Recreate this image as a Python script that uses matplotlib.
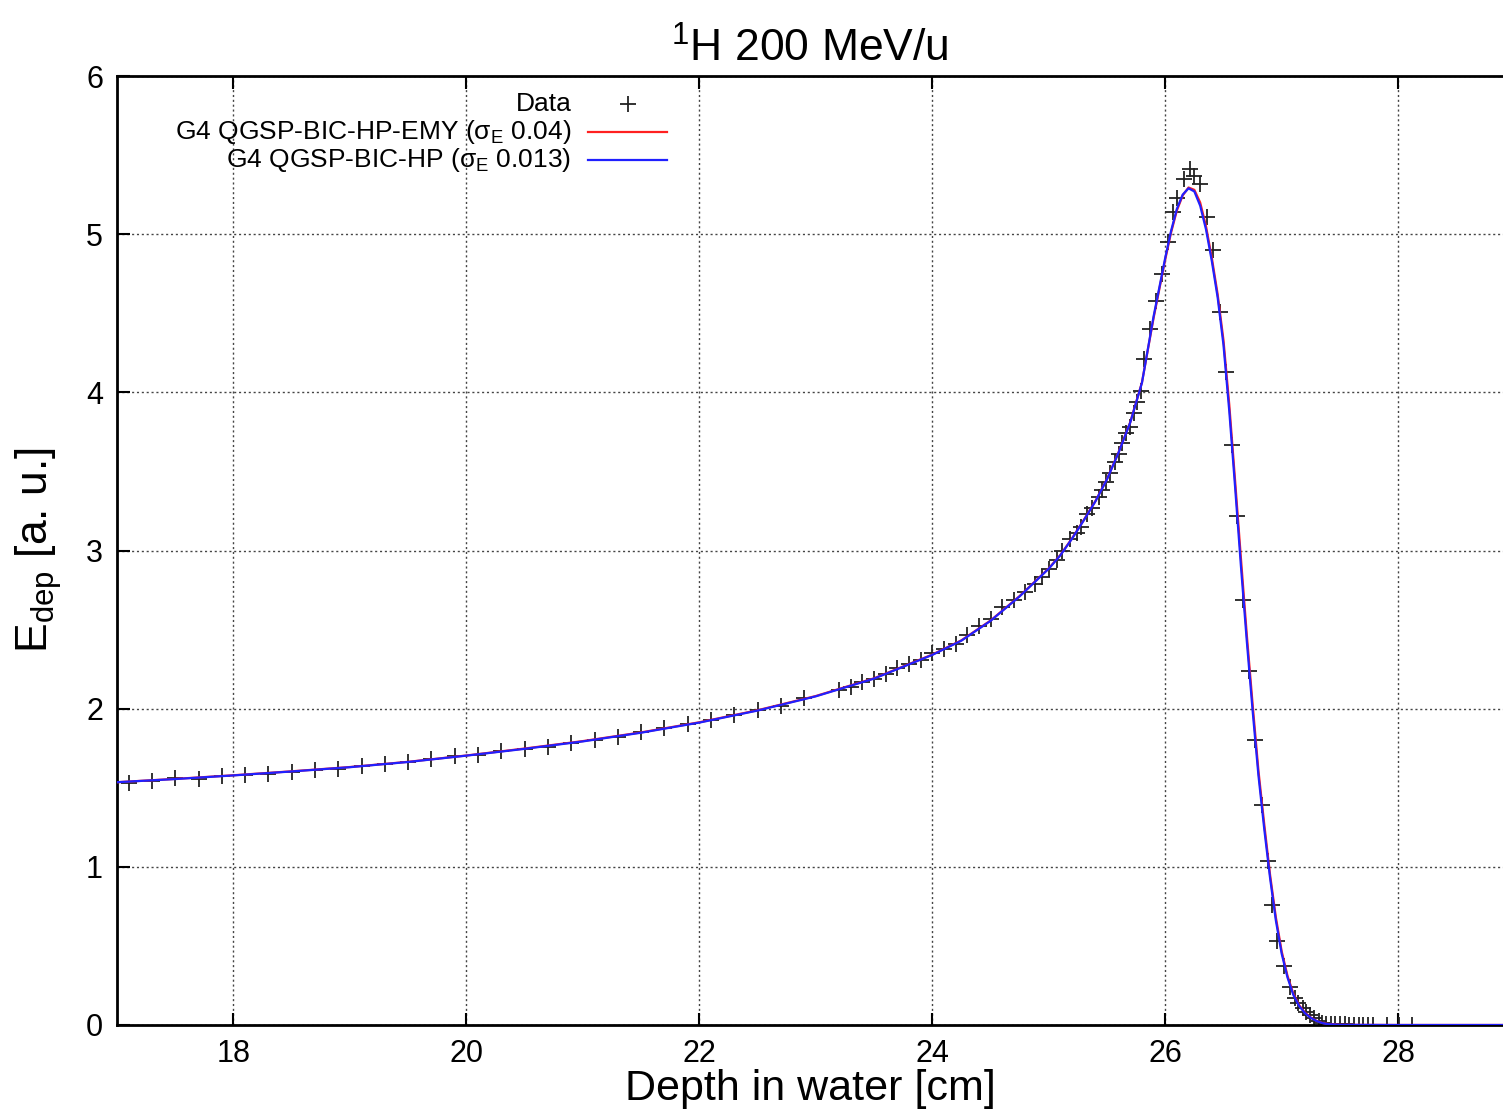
import matplotlib
matplotlib.use("Agg")
import matplotlib.pyplot as plt
from matplotlib.lines import Line2D

plt.rcParams["font.family"] = ["Liberation Sans", "DejaVu Sans"]
plt.rcParams["mathtext.fontset"] = "custom"
plt.rcParams["mathtext.rm"] = "Liberation Sans"
plt.rcParams["mathtext.it"] = "Liberation Sans"

data_x = [17.1, 17.3, 17.5, 17.7, 17.9, 18.1, 18.3, 18.5, 18.7, 18.9,
          19.1, 19.3, 19.5, 19.7, 19.9, 20.1, 20.3, 20.5, 20.7, 20.9,
          21.1, 21.3, 21.5, 21.7, 21.9, 22.1, 22.3, 22.5, 22.7, 22.9,
          23.2, 23.3, 23.4, 23.5, 23.6, 23.7, 23.8, 23.9, 24.0, 24.1,
          24.2, 24.3, 24.4, 24.5, 24.6, 24.7, 24.8, 24.88, 24.94, 25.0,
          25.07, 25.11, 25.18, 25.24, 25.28, 25.33, 25.37, 25.43, 25.46, 25.49,
          25.53, 25.57, 25.60, 25.63, 25.66, 25.70, 25.73, 25.76, 25.79, 25.82,
          25.87, 25.92, 25.97, 26.02, 26.07, 26.10, 26.16, 26.21, 26.25, 26.30,
          26.36, 26.41, 26.47, 26.52, 26.57, 26.62, 26.67, 26.72, 26.77, 26.83,
          26.88, 26.92, 26.96, 27.02, 27.07, 27.11, 27.14, 27.18, 27.21, 27.24,
          27.28, 27.32, 27.35, 27.38, 27.42, 27.46, 27.50, 27.54, 27.58, 27.62,
          27.66, 27.70, 27.74, 27.78, 27.90, 28.01, 28.12]
data_y = [1.53, 1.54, 1.56, 1.555, 1.575, 1.58, 1.59, 1.60, 1.615, 1.62,
          1.635, 1.65, 1.665, 1.68, 1.70, 1.71, 1.735, 1.745, 1.76, 1.785,
          1.80, 1.82, 1.85, 1.875, 1.90, 1.93, 1.96, 1.99, 2.02, 2.07,
          2.12, 2.14, 2.17, 2.19, 2.22, 2.26, 2.28, 2.31, 2.35, 2.38,
          2.41, 2.465, 2.52, 2.57, 2.64, 2.69, 2.74, 2.79, 2.83, 2.88,
          2.94, 3.00, 3.07, 3.11, 3.15, 3.23, 3.27, 3.34, 3.38, 3.43,
          3.49, 3.56, 3.61, 3.68, 3.74, 3.78, 3.87, 3.94, 4.01, 4.21,
          4.40, 4.58, 4.75, 4.95, 5.14, 5.23, 5.35, 5.41, 5.37, 5.32,
          5.11, 4.90, 4.51, 4.13, 3.67, 3.22, 2.69, 2.24, 1.80, 1.39,
          1.04, 0.76, 0.53, 0.37, 0.24, 0.17, 0.14, 0.105, 0.085, 0.063,
          0.042, 0.027, 0.015, 0.008, 0.006, 0.005, 0.004, 0.004, 0.003, 0.003,
          0.003, 0.002, 0.002, 0.002, 0.001, 0.001, 0.001]

# simulated curves
sim_x = [17.0, 17.5, 18.0, 18.5, 19.0, 19.5, 20.0, 20.5, 21.0, 21.5,
         22.0, 22.5, 23.0, 23.5, 24.0, 24.25, 24.5, 24.75, 25.0, 25.1,
         25.2, 25.3, 25.4, 25.5, 25.6, 25.7, 25.8, 25.9, 26.0, 26.05,
         26.1, 26.15, 26.2, 26.25, 26.3, 26.35, 26.4, 26.45, 26.5, 26.55,
         26.6, 26.65, 26.7, 26.75, 26.8, 26.85, 26.9, 26.95, 27.0, 27.05,
         27.1, 27.15, 27.2, 27.25, 27.3, 27.35, 27.4, 27.5, 28.0, 28.9]
emy_y = [1.535, 1.556, 1.579, 1.604, 1.631, 1.664, 1.704, 1.748, 1.795, 1.850,
         1.914, 1.990, 2.080, 2.192, 2.342, 2.432, 2.557, 2.712, 2.887, 2.972,
         3.077, 3.192, 3.312, 3.452, 3.622, 3.812, 4.062, 4.470, 4.840, 5.010,
         5.150, 5.245, 5.295, 5.280, 5.200, 5.050, 4.850, 4.620, 4.330, 3.920,
         3.440, 2.950, 2.470, 2.030, 1.610, 1.270, 0.950, 0.680, 0.465, 0.310,
         0.198, 0.125, 0.078, 0.047, 0.026, 0.013, 0.006, 0.001, 0.0, 0.0]
hp_y = [1.535, 1.555, 1.578, 1.603, 1.630, 1.663, 1.703, 1.746, 1.793, 1.848,
        1.912, 1.988, 2.078, 2.190, 2.340, 2.430, 2.555, 2.710, 2.885, 2.970,
        3.075, 3.190, 3.310, 3.450, 3.620, 3.810, 4.060, 4.480, 4.850, 5.020,
        5.160, 5.250, 5.290, 5.270, 5.180, 5.030, 4.830, 4.600, 4.300, 3.880,
        3.400, 2.900, 2.430, 1.990, 1.580, 1.240, 0.930, 0.660, 0.450, 0.300,
        0.190, 0.120, 0.075, 0.045, 0.025, 0.012, 0.005, 0.001, 0.0, 0.0]

labels = ["Data",
          r"G4 QGSP-BIC-HP-EMY (σ$_\mathrm{E}$ 0.04)",
          r"G4 QGSP-BIC-HP (σ$_\mathrm{E}$ 0.013)"]

fig = plt.figure(figsize=(15.03, 11.18), dpi=100)
ax = fig.add_axes([117 / 1503, 1 - 1025 / 1118, 1 - 117 / 1503, (1025 - 76) / 1118])

ax.plot(data_x, data_y, linestyle="none", marker="+", markersize=12,
        markeredgewidth=1.3, color="#222222", zorder=2)
ax.plot(sim_x, emy_y, color="#ff2020", linewidth=1.6, zorder=3)
ax.plot(sim_x, hp_y, color="#2020ff", linewidth=1.6, zorder=4)

ax.set_xlim(17, 28.9)
ax.set_ylim(0, 6)
ax.set_xticks([18, 20, 22, 24, 26, 28])
ax.set_yticks([0, 1, 2, 3, 4, 5, 6])
ax.tick_params(direction="in", length=9, width=1.5, labelsize=22, pad=10,
               top=True, right=False)
ax.grid(True, color="#444444", linestyle=(0, (1.5, 2.0)), linewidth=1.0)
for side in ["left", "bottom", "top"]:
    ax.spines[side].set_linewidth(2.0)
ax.spines["right"].set_visible(False)

ax.set_xlabel("Depth in water [cm]", fontsize=31, labelpad=0)
ax.set_ylabel(r"E$_\mathrm{dep}$ [a. u.]", fontsize=32, labelpad=16)
ax.set_title(r"$^{1}$H 200 MeV/u", fontsize=32, pad=10)

# gnuplot-style key: right-aligned text, sample to the right
key_rows = [0.971, 0.941, 0.911]
for i, (lab, yk) in enumerate(zip(labels, key_rows)):
    ax.text(0.328, yk, lab, transform=ax.transAxes, ha="right", va="center",
            fontsize=19)
    if i == 0:
        ax.add_line(Line2D([0.3687], [yk], transform=ax.transAxes, marker="+",
                           markersize=12, markeredgewidth=1.3, color="#222222"))
    else:
        col = "#ff2020" if i == 1 else "#2020ff"
        ax.add_line(Line2D([0.340, 0.397], [yk, yk], transform=ax.transAxes,
                           color=col, linewidth=1.6))

fig.savefig("out.png", dpi=100)
